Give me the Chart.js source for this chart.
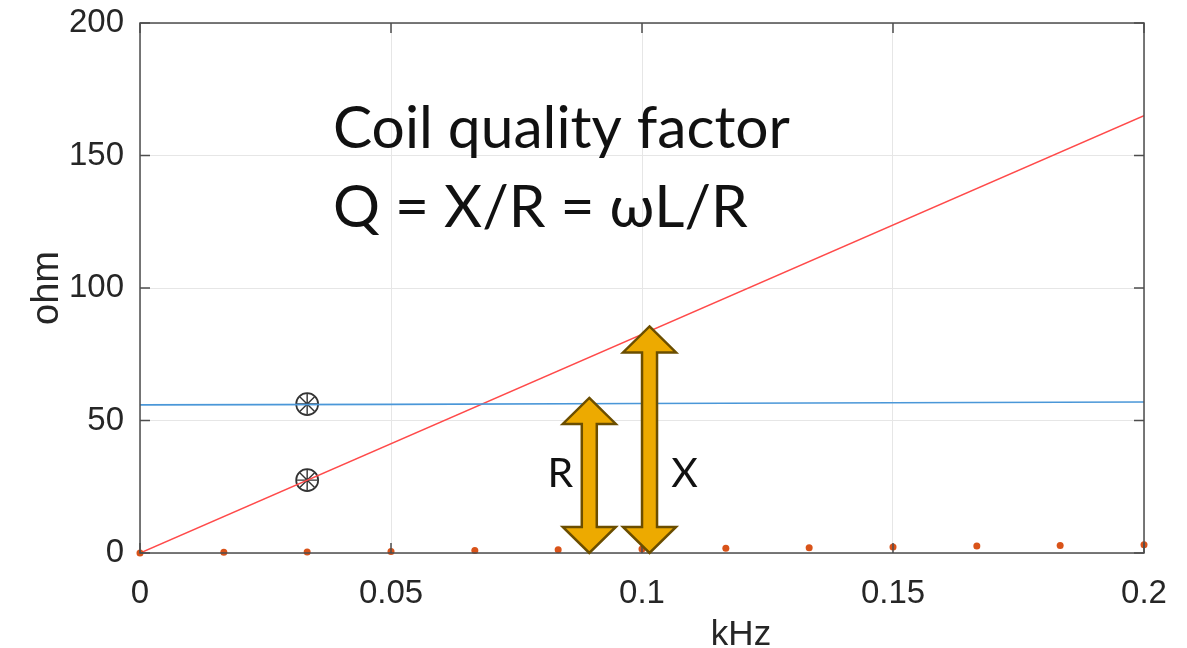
<!DOCTYPE html>
<html>
<head>
<meta charset="utf-8">
<script src="https://cdn.jsdelivr.net/npm/chart.js@4/dist/chart.umd.min.js"></script>
<style>
html,body{margin:0;padding:0;background:#fff;}
canvas{display:block;}
</style>
</head>
<body>
<canvas id="c" width="1187" height="648"></canvas>
<script>
// ---- data ----
const xTickLabels = ['0', '0.05', '0.1', '0.15', '0.2'];
const xTickValues = [0, 0.05, 0.1, 0.15, 0.2];
const yTickValues = [0, 50, 100, 150, 200];

// reactance X = wL (red line)
const reactF = [0, 0.2];
const reactX = [0, 165];

// resistance R (blue line)
const resF = [0, 0.05, 0.1, 0.15, 0.2];
const resR = [55.9, 56.1, 56.4, 56.7, 57.0];

// DC-ish resistance samples (orange dots)
const dotF = [0, 0.0167, 0.0333, 0.05, 0.0667, 0.0833, 0.1, 0.1167, 0.1333, 0.15, 0.1667, 0.1833, 0.2];
const dotR = [0, 0.3, 0.4, 0.6, 0.9, 1.2, 1.5, 1.8, 2.0, 2.3, 2.6, 2.8, 3.1];

// measured markers
const markF = [0.0333, 0.0333];
const markV = [56.2, 27.5];

// annotation arrows
const arrowF = [0.0895, 0.1015];
const arrowTop = [58.5, 85.5];
const arrowLabels = ['R', 'X'];

const titleLines = ['Coil quality factor', 'Q = X/R = \u03c9L/R'];
const xTitle = 'kHz';
const yTitle = 'ohm';

const pts = (xs, ys) => xs.map((x, i) => ({x: x, y: ys[i]}));

const boxPlugin = {
  id: 'box',
  afterDatasetsDraw(chart) {
    const ctx = chart.ctx, a = chart.chartArea;
    const xs = chart.scales.x, ys = chart.scales.y;
    ctx.save();
    ctx.strokeStyle = '#4d4d4d';
    ctx.lineWidth = 1.5;
    ctx.beginPath();
    yTickValues.forEach(v => {
      const py = ys.getPixelForValue(v);
      ctx.moveTo(a.left, py); ctx.lineTo(a.left + 10, py);
      ctx.moveTo(a.right, py); ctx.lineTo(a.right - 10, py);
    });
    xTickValues.forEach(v => {
      const px = xs.getPixelForValue(v);
      ctx.moveTo(px, a.bottom); ctx.lineTo(px, a.bottom - 10);
      ctx.moveTo(px, a.top); ctx.lineTo(px, a.top + 10);
    });
    ctx.stroke();
    ctx.strokeRect(a.left, a.top, a.right - a.left, a.bottom - a.top);
    ctx.restore();
  }
};

const arrowPlugin = {
  id: 'arrows',
  afterDraw(chart) {
    const ctx = chart.ctx, a = chart.chartArea;
    const xs = chart.scales.x, ys = chart.scales.y;
    ctx.save();
    const hw = 26.5, sw = 7.5, hh = 26;
    arrowF.forEach((f, i) => {
      const xp = xs.getPixelForValue(f);
      const yt = ys.getPixelForValue(arrowTop[i]);
      const yb = ys.getPixelForValue(0);
      ctx.beginPath();
      ctx.moveTo(xp, yt);
      ctx.lineTo(xp + hw, yt + hh);
      ctx.lineTo(xp + sw, yt + hh);
      ctx.lineTo(xp + sw, yb - hh);
      ctx.lineTo(xp + hw, yb - hh);
      ctx.lineTo(xp, yb);
      ctx.lineTo(xp - hw, yb - hh);
      ctx.lineTo(xp - sw, yb - hh);
      ctx.lineTo(xp - sw, yt + hh);
      ctx.lineTo(xp - hw, yt + hh);
      ctx.closePath();
      ctx.fillStyle = '#EDAA00';
      ctx.fill();
      ctx.strokeStyle = '#6B4E00';
      ctx.lineWidth = 2.5;
      ctx.lineJoin = 'miter';
      ctx.stroke();
      ctx.fillStyle = '#111';
      ctx.font = '41px Lato';
      ctx.textAlign = 'center';
      ctx.textBaseline = 'alphabetic';
      const lx = i === 0 ? xp - 29 : xp + 35;
      ctx.fillText(arrowLabels[i], lx, 487);
    });
    ctx.fillStyle = '#111';
    ctx.textAlign = 'left';
    ctx.textBaseline = 'alphabetic';
    let size = 50;
    ctx.font = size + 'px Lato';
    const w = ctx.measureText(titleLines[0]).width;
    size = size * 457 / w;
    ctx.font = size.toFixed(1) + 'px Lato';
    ctx.fillText(titleLines[0], 333, 148);
    ctx.fillText(titleLines[1], 333, 227);
    ctx.fillStyle = '#262626';
    ctx.font = '35px "Liberation Sans"';
    ctx.textAlign = 'center';
    ctx.fillText(xTitle, 741, 645);
    ctx.save();
    ctx.font = '38px "Liberation Sans"';
    ctx.translate(58, (a.top + a.bottom) / 2);
    ctx.rotate(-Math.PI / 2);
    ctx.fillText(yTitle, 0, 0);
    ctx.restore();
    ctx.restore();
  }
};

new Chart(document.getElementById('c'), {
  type: 'scatter',
  data: {
    datasets: [
      {data: pts(dotF, dotR), pointStyle: 'circle', pointRadius: 3.5, pointBackgroundColor: '#D95319', pointBorderWidth: 0, showLine: false, clip: false},
      {data: pts(resF, resR), showLine: true, borderColor: '#4A97D8', borderWidth: 1.6, pointRadius: 0, fill: false},
      {data: pts(reactF, reactX), showLine: true, borderColor: '#FF4A4A', borderWidth: 1.6, pointRadius: 0, fill: false},
      {data: pts(markF, markV), pointStyle: 'circle', pointRadius: 11, pointBorderColor: '#333', pointBackgroundColor: 'rgba(0,0,0,0)', pointBorderWidth: 1.7, showLine: false},
      {data: pts(markF, markV), pointStyle: 'star', pointRadius: 10.5, pointBorderColor: '#333', pointBorderWidth: 1.4, showLine: false}
    ]
  },
  options: {
    responsive: false,
    animation: false,
    events: [],
    layout: {padding: {top: 23, right: 43, left: 0, bottom: 0}},
    plugins: {legend: {display: false}, tooltip: {enabled: false}},
    scales: {
      x: {
        type: 'linear', min: 0, max: 0.2,
        afterFit(s) { s.height = 95; s.paddingLeft = 0; s.paddingRight = 0; },
        afterBuildTicks(s) { s.ticks = xTickValues.map(v => ({value: v})); },
        ticks: {
          callback: (v, i) => xTickLabels[i],
          font: {family: 'Liberation Sans', size: 33},
          color: '#262626', padding: 21, maxRotation: 0
        },
        grid: {color: '#e6e6e6', lineWidth: 1, drawTicks: false},
        border: {display: false}
      },
      y: {
        type: 'linear', min: 0, max: 200,
        afterFit(s) { s.width = 140; s.paddingTop = 0; s.paddingBottom = 0; },
        afterBuildTicks(s) { s.ticks = yTickValues.map(v => ({value: v})); },
        ticks: {
          callback: v => String(v),
          font: {family: 'Liberation Sans', size: 33},
          color: '#262626', padding: 16
        },
        grid: {color: '#e6e6e6', lineWidth: 1, drawTicks: false},
        border: {display: false}
      }
    }
  },
  plugins: [boxPlugin, arrowPlugin]
});
</script>
</body>
</html>
